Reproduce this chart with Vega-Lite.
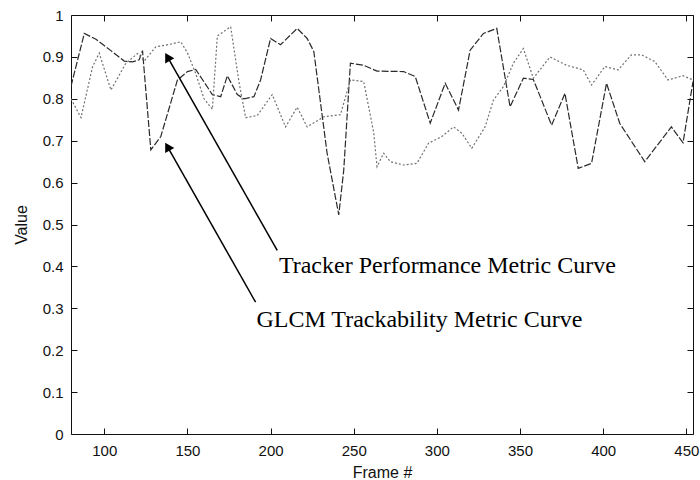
{
  "$schema": "https://vega.github.io/schema/vega-lite/v6.json",
  "width": 622,
  "height": 419,
  "autosize": {"type": "none"},
  "padding": {"left": 71, "top": 15, "right": 7, "bottom": 46},
  "background": "white",
  "config": {
    "view": {"stroke": null},
    "axis": {
      "domainColor": "#111",
      "tickColor": "#111",
      "labelColor": "#111",
      "titleColor": "#111",
      "labelFont": "Liberation Sans",
      "titleFont": "Liberation Sans",
      "labelFontSize": 15,
      "titleFontSize": 16,
      "titleFontWeight": "normal",
      "grid": false,
      "tickSize": -6
    }
  },
  "datasets": {
    "curves": [
      {"series": "GLCM", "frame": 80, "value": 0.83},
      {"series": "GLCM", "frame": 88, "value": 0.956},
      {"series": "GLCM", "frame": 95, "value": 0.942},
      {"series": "GLCM", "frame": 104, "value": 0.915},
      {"series": "GLCM", "frame": 112, "value": 0.89},
      {"series": "GLCM", "frame": 117, "value": 0.888},
      {"series": "GLCM", "frame": 121, "value": 0.893},
      {"series": "GLCM", "frame": 123, "value": 0.915},
      {"series": "GLCM", "frame": 128, "value": 0.678},
      {"series": "GLCM", "frame": 134, "value": 0.71},
      {"series": "GLCM", "frame": 144, "value": 0.845},
      {"series": "GLCM", "frame": 150, "value": 0.865},
      {"series": "GLCM", "frame": 155, "value": 0.87},
      {"series": "GLCM", "frame": 160, "value": 0.84},
      {"series": "GLCM", "frame": 165, "value": 0.81},
      {"series": "GLCM", "frame": 170, "value": 0.805},
      {"series": "GLCM", "frame": 174, "value": 0.855},
      {"series": "GLCM", "frame": 180, "value": 0.81},
      {"series": "GLCM", "frame": 184, "value": 0.80},
      {"series": "GLCM", "frame": 190, "value": 0.805},
      {"series": "GLCM", "frame": 194, "value": 0.845},
      {"series": "GLCM", "frame": 200, "value": 0.944},
      {"series": "GLCM", "frame": 206, "value": 0.929},
      {"series": "GLCM", "frame": 216, "value": 0.968},
      {"series": "GLCM", "frame": 222, "value": 0.944},
      {"series": "GLCM", "frame": 226, "value": 0.913},
      {"series": "GLCM", "frame": 234, "value": 0.67},
      {"series": "GLCM", "frame": 241, "value": 0.523},
      {"series": "GLCM", "frame": 244, "value": 0.63},
      {"series": "GLCM", "frame": 248, "value": 0.885},
      {"series": "GLCM", "frame": 256, "value": 0.88},
      {"series": "GLCM", "frame": 264, "value": 0.866},
      {"series": "GLCM", "frame": 280, "value": 0.865},
      {"series": "GLCM", "frame": 287, "value": 0.853},
      {"series": "GLCM", "frame": 296, "value": 0.742},
      {"series": "GLCM", "frame": 305, "value": 0.837},
      {"series": "GLCM", "frame": 313, "value": 0.773},
      {"series": "GLCM", "frame": 320, "value": 0.916},
      {"series": "GLCM", "frame": 328, "value": 0.956},
      {"series": "GLCM", "frame": 336, "value": 0.968},
      {"series": "GLCM", "frame": 344, "value": 0.781},
      {"series": "GLCM", "frame": 352, "value": 0.849},
      {"series": "GLCM", "frame": 358, "value": 0.846},
      {"series": "GLCM", "frame": 369, "value": 0.737},
      {"series": "GLCM", "frame": 377, "value": 0.813},
      {"series": "GLCM", "frame": 385, "value": 0.634},
      {"series": "GLCM", "frame": 393, "value": 0.646},
      {"series": "GLCM", "frame": 402, "value": 0.837},
      {"series": "GLCM", "frame": 410, "value": 0.741},
      {"series": "GLCM", "frame": 425, "value": 0.65},
      {"series": "GLCM", "frame": 441, "value": 0.733},
      {"series": "GLCM", "frame": 448, "value": 0.695},
      {"series": "GLCM", "frame": 454, "value": 0.841},
      {"series": "Tracker", "frame": 80, "value": 0.80},
      {"series": "Tracker", "frame": 86, "value": 0.755},
      {"series": "Tracker", "frame": 93, "value": 0.877},
      {"series": "Tracker", "frame": 97, "value": 0.909},
      {"series": "Tracker", "frame": 104, "value": 0.821},
      {"series": "Tracker", "frame": 113, "value": 0.885},
      {"series": "Tracker", "frame": 120, "value": 0.908},
      {"series": "Tracker", "frame": 124, "value": 0.89},
      {"series": "Tracker", "frame": 131, "value": 0.924},
      {"series": "Tracker", "frame": 137, "value": 0.928},
      {"series": "Tracker", "frame": 146, "value": 0.936},
      {"series": "Tracker", "frame": 150, "value": 0.91},
      {"series": "Tracker", "frame": 155, "value": 0.86},
      {"series": "Tracker", "frame": 160, "value": 0.80},
      {"series": "Tracker", "frame": 165, "value": 0.775},
      {"series": "Tracker", "frame": 168, "value": 0.95},
      {"series": "Tracker", "frame": 176, "value": 0.972},
      {"series": "Tracker", "frame": 181, "value": 0.84},
      {"series": "Tracker", "frame": 185, "value": 0.755},
      {"series": "Tracker", "frame": 192, "value": 0.76},
      {"series": "Tracker", "frame": 201, "value": 0.81},
      {"series": "Tracker", "frame": 209, "value": 0.733},
      {"series": "Tracker", "frame": 216, "value": 0.78},
      {"series": "Tracker", "frame": 222, "value": 0.733},
      {"series": "Tracker", "frame": 232, "value": 0.757},
      {"series": "Tracker", "frame": 242, "value": 0.762},
      {"series": "Tracker", "frame": 248, "value": 0.845},
      {"series": "Tracker", "frame": 256, "value": 0.841},
      {"series": "Tracker", "frame": 262, "value": 0.72},
      {"series": "Tracker", "frame": 264, "value": 0.638},
      {"series": "Tracker", "frame": 268, "value": 0.67},
      {"series": "Tracker", "frame": 272, "value": 0.65},
      {"series": "Tracker", "frame": 280, "value": 0.642},
      {"series": "Tracker", "frame": 288, "value": 0.646},
      {"series": "Tracker", "frame": 295, "value": 0.694},
      {"series": "Tracker", "frame": 303, "value": 0.71},
      {"series": "Tracker", "frame": 310, "value": 0.733},
      {"series": "Tracker", "frame": 315, "value": 0.718},
      {"series": "Tracker", "frame": 321, "value": 0.682},
      {"series": "Tracker", "frame": 329, "value": 0.733},
      {"series": "Tracker", "frame": 334, "value": 0.797},
      {"series": "Tracker", "frame": 340, "value": 0.829},
      {"series": "Tracker", "frame": 346, "value": 0.885},
      {"series": "Tracker", "frame": 352, "value": 0.92},
      {"series": "Tracker", "frame": 358, "value": 0.849},
      {"series": "Tracker", "frame": 368, "value": 0.90},
      {"series": "Tracker", "frame": 378, "value": 0.88},
      {"series": "Tracker", "frame": 388, "value": 0.869},
      {"series": "Tracker", "frame": 393, "value": 0.833},
      {"series": "Tracker", "frame": 401, "value": 0.877},
      {"series": "Tracker", "frame": 409, "value": 0.869},
      {"series": "Tracker", "frame": 417, "value": 0.905},
      {"series": "Tracker", "frame": 423, "value": 0.905},
      {"series": "Tracker", "frame": 431, "value": 0.889},
      {"series": "Tracker", "frame": 439, "value": 0.845},
      {"series": "Tracker", "frame": 448, "value": 0.855},
      {"series": "Tracker", "frame": 454, "value": 0.845}
    ],
    "notes": [
      {"label": "Tracker Performance Metric Curve", "tailFrame": 204, "tailValue": 0.438, "tipFrame": 138, "tipValue": 0.9, "textFrame": 205, "textValue": 0.40},
      {"label": "GLCM Trackability Metric Curve", "tailFrame": 191, "tailValue": 0.3145, "tipFrame": 138, "tipValue": 0.686, "textFrame": 191.5, "textValue": 0.272}
    ]
  },
  "layer": [
    {
      "data": {"name": "curves"},
      "mark": {"type": "line", "strokeWidth": 1.2, "clip": true},
      "encoding": {
        "x": {
          "field": "frame", "type": "quantitative",
          "scale": {"domain": [80, 454], "nice": false, "zero": false},
          "axis": {"orient": "bottom", "title": "Frame #", "values": [100, 150, 200, 250, 300, 350, 400, 450], "labelPadding": 15, "titlePadding": 6, "labelFlush": false}
        },
        "y": {
          "field": "value", "type": "quantitative",
          "scale": {"domain": [0, 1], "nice": false},
          "axis": {"orient": "left", "title": "Value", "values": [0, 0.1, 0.2, 0.3, 0.4, 0.5, 0.6, 0.7, 0.8, 0.9, 1], "format": "~g", "labelPadding": 14, "titlePadding": 13}
        },
        "color": {"field": "series", "type": "nominal", "scale": {"domain": ["GLCM", "Tracker"], "range": ["#2a2a2a", "#707070"]}, "legend": null},
        "strokeDash": {"field": "series", "type": "nominal", "scale": {"domain": ["GLCM", "Tracker"], "range": [[7, 2], [2, 2]]}, "legend": null}
      }
    },
    {
      "data": {"name": "notes"},
      "mark": {"type": "rule", "color": "black", "strokeWidth": 1.5},
      "encoding": {
        "x": {
          "field": "tailFrame", "type": "quantitative",
          "scale": {"domain": [80, 454], "nice": false, "zero": false},
          "axis": {"orient": "top", "title": null, "labels": false, "values": [100, 150, 200, 250, 300, 350, 400, 450]}
        },
        "y": {
          "field": "tailValue", "type": "quantitative",
          "scale": {"domain": [0, 1], "nice": false},
          "axis": {"orient": "right", "title": null, "labels": false, "values": [0, 0.1, 0.2, 0.3, 0.4, 0.5, 0.6, 0.7, 0.8, 0.9, 1]}
        },
        "x2": {"field": "tipFrame"},
        "y2": {"field": "tipValue"}
      }
    },
    {
      "data": {"name": "notes"},
      "mark": {"type": "point", "shape": "triangle-up", "filled": true, "color": "black", "size": 110, "angle": 330, "opacity": 1},
      "encoding": {
        "x": {"field": "tipFrame", "type": "quantitative", "axis": null},
        "y": {"field": "tipValue", "type": "quantitative", "axis": null}
      }
    },
    {
      "data": {"name": "notes"},
      "mark": {"type": "text", "align": "left", "baseline": "middle", "font": "Liberation Serif", "fontSize": 24, "color": "black"},
      "encoding": {
        "x": {"field": "textFrame", "type": "quantitative", "axis": null},
        "y": {"field": "textValue", "type": "quantitative", "axis": null},
        "text": {"field": "label"}
      }
    }
  ],
  "resolve": {"axis": {"x": "independent", "y": "independent"}}
}
